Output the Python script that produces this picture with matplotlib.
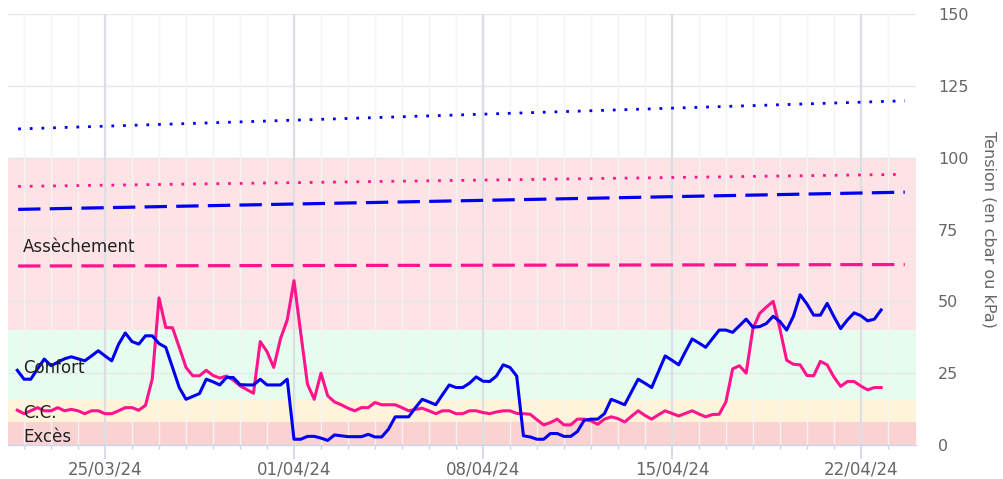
import numpy as np
import matplotlib
matplotlib.use("Agg")
import matplotlib.pyplot as plt
import matplotlib.dates as mdates

# ---------------- data ----------------
start = np.datetime64("2024-03-21T18:00")
step = np.timedelta64(6, "h")

blue_vals = [
    26.0, 22.9, 22.9, 26.5, 29.9, 27.6, 28.8, 30.0, 30.7, 30.0,
    29.3, 31.0, 32.8, 31.0, 29.3, 35.0, 39.0, 36.0, 35.1, 38.0,
    38.0, 35.3, 34.0, 27.0, 20.0, 15.9, 16.9, 17.9, 22.9, 22.0,
    20.9, 23.5, 23.5, 21.0, 20.9, 20.9, 22.9, 20.9, 20.9, 20.9,
    22.9, 2.0, 2.0, 3.0, 3.0, 2.4, 1.6, 3.5, 3.2, 2.9,
    2.9, 2.9, 3.7, 2.8, 2.8, 5.5, 9.8, 9.8, 9.8, 13.0,
    15.9, 15.0, 14.0, 17.5, 20.9, 20.0, 20.0, 21.5, 23.7, 22.2,
    22.1, 24.0, 27.9, 27.0, 24.0, 3.2, 2.8, 2.0, 2.0, 4.0,
    4.0, 3.0, 3.0, 4.7, 8.6, 9.0, 9.0, 10.9, 15.9, 15.0,
    14.0, 18.5, 22.9, 21.5, 20.0, 25.5, 31.0, 29.5, 27.9, 32.5,
    36.9, 35.5, 34.0, 37.0, 40.0, 40.0, 39.2, 41.5, 43.8, 41.0,
    41.2, 42.3, 44.8, 43.0, 40.0, 44.8, 52.3, 49.1, 45.2, 45.2,
    49.3, 44.7, 40.5, 43.5, 46.0, 45.0, 43.2, 43.8, 47.0,
]

pink_vals = [
    12.1, 10.9, 11.9, 13.0, 11.9, 11.9, 13.0, 11.9, 12.4, 11.9,
    10.9, 11.9, 11.9, 10.9, 10.9, 11.9, 13.0, 13.0, 12.1, 13.8,
    23.0, 51.2, 40.9, 40.8, 34.0, 27.0, 24.1, 24.1, 26.0, 24.2,
    23.3, 24.0, 22.6, 20.6, 19.3, 18.0, 36.0, 32.5, 27.0, 37.0,
    43.5, 57.2, 39.0, 21.2, 15.9, 25.0, 17.1, 15.0, 14.0, 12.8,
    11.9, 13.0, 13.0, 14.8, 14.0, 14.0, 14.0, 13.0, 11.9, 12.4,
    12.8, 11.9, 10.9, 11.9, 11.9, 10.9, 10.9, 11.9, 11.9, 11.3,
    10.9, 11.5, 11.9, 11.9, 11.0, 10.9, 10.7, 8.8, 7.0, 7.8,
    9.0, 7.0, 7.0, 9.0, 9.0, 8.4, 7.2, 9.0, 9.8, 9.2,
    8.0, 10.0, 11.9, 10.3, 9.0, 10.5, 11.9, 11.0, 10.1, 11.0,
    11.9, 10.8, 9.8, 10.6, 10.7, 15.0, 26.5, 27.6, 25.0, 40.5,
    45.8, 48.0, 50.0, 40.5, 29.5, 28.1, 27.9, 24.2, 24.1, 29.1,
    27.9, 23.7, 20.4, 22.1, 22.1, 20.5, 19.2, 20.0, 20.0,
]

ref_dates = ["2024-03-21T18:45", "2024-04-23T15:00"]
blue_dotted = [110.0, 119.8]
pink_dotted = [90.0, 94.2]
blue_dashed = [82.0, 88.0]
pink_dashed = [62.3, 62.8]

band_names = ["Excès", "C.C.", "Confort", "Assèchement"]
band_low = [0, 8, 15.5, 40]
band_high = [8, 15.5, 40, 100]
band_colors = ["#fbd2d2", "#fdf4d9", "#e6fcef", "#fde3e5"]
band_label_y = [2.8, 11.3, 26.8, 69.0]

y_ticks = [0, 25, 50, 75, 100, 125, 150]
x_major = ["2024-03-25", "2024-04-01", "2024-04-08", "2024-04-15", "2024-04-22"]
x_limits = ["2024-03-21T09:45", "2024-04-24T01:00"]

# ---------------- plot ----------------
times = start + np.arange(len(blue_vals)) * step
times = times.astype("datetime64[m]").astype(object)
rdates = np.array(ref_dates, dtype="datetime64[m]").astype(object)

fig = plt.figure(figsize=(10.04, 4.79), dpi=100)
ax = fig.add_axes([8 / 1004, 1 - 445 / 479, (916 - 8) / 1004, (445 - 14) / 479])

for lo, hi, c in zip(band_low, band_high, band_colors):
    ax.axhspan(lo, hi, color=c, lw=0, zorder=0)

# grid lines
for yv in y_ticks[1:]:
    ax.axhline(yv, color="#e6e6e6", lw=1.0, zorder=1)
xl = [np.datetime64(v, "m").astype(object) for v in x_limits]
ax.set_xlim(xl[0], xl[1])
days = np.arange(np.datetime64("2024-03-22"), np.datetime64("2024-04-24"), np.timedelta64(1, "D"))
for d in days:
    ax.axvline(d.astype(object), color="#f4f4f4", lw=1.0, zorder=1)
for d in x_major:
    ax.axvline(np.datetime64(d).astype(object), color="#dcdee4", lw=1.6, zorder=1)

ax.plot(rdates, blue_dotted, color="#0000f0", lw=2.0, dashes=(1, 3.2), zorder=3)
ax.plot(rdates, pink_dotted, color="#ff148c", lw=2.0, dashes=(1, 3.2), zorder=3)
ax.plot(rdates, blue_dashed, color="#0000f0", lw=2.3, dashes=(7.0, 2.9), zorder=3)
ax.plot(rdates, pink_dashed, color="#ff148c", lw=2.3, dashes=(7.0, 2.9), zorder=3)

ax.plot(times, pink_vals, color="#ff148c", lw=2.2, zorder=4, solid_joinstyle="round")
ax.plot(times, blue_vals, color="#0000f0", lw=2.2, zorder=5, solid_joinstyle="round")

for name, yv in zip(band_names, band_label_y):
    ax.text(15 / 908, yv, name, transform=ax.get_yaxis_transform(),
            ha="left", va="center", fontsize=12, color="#222222", zorder=6)

ax.set_ylim(0, 150)
ax.set_yticks(y_ticks)
ax.yaxis.tick_right()
ax.yaxis.set_label_position("right")
ax.tick_params(axis="y", length=0, pad=16, labelsize=11.5, labelcolor="#666666")
ax.set_ylabel("Tension (en cbar ou kPa)", rotation=270, labelpad=20,
              fontsize=11.5, color="#666666")

ax.set_xticks([np.datetime64(d).astype(object) for d in x_major])
ax.xaxis.set_major_formatter(mdates.DateFormatter("%d/%m/%y"))
ax.set_xticks([d.astype(object) for d in days], minor=True)
ax.tick_params(axis="x", which="major", length=10, width=1.2, color="#ccd6eb",
               labelsize=12, labelcolor="#666666", pad=1)
ax.tick_params(axis="x", which="minor", length=3, width=1, color="#ccd6eb")

for s in ["top", "left", "right"]:
    ax.spines[s].set_visible(False)
ax.spines["bottom"].set_color("#ccd6eb")
ax.spines["bottom"].set_linewidth(1.0)
ax.spines["bottom"].set_zorder(2)

fig.savefig("out.png", dpi=100)
